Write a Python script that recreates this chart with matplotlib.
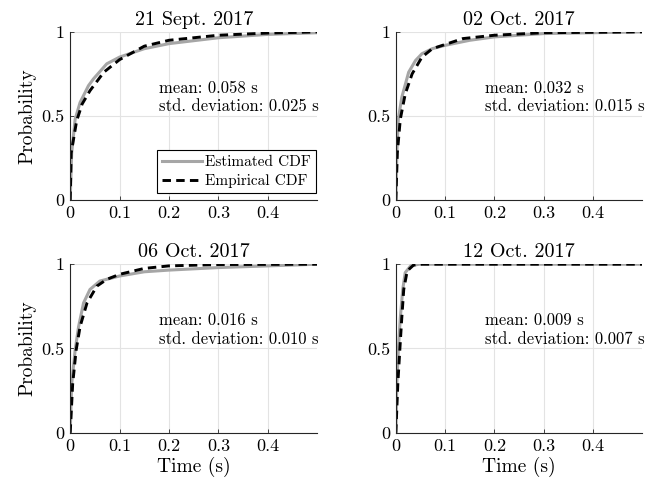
import matplotlib
matplotlib.use("Agg")
import matplotlib.pyplot as plt

plt.rcParams['font.family'] = 'serif'
plt.rcParams['font.serif'] = ['cmr10', 'DejaVu Serif']
plt.rcParams['mathtext.fontset'] = 'cm'
plt.rcParams['axes.formatter.use_mathtext'] = True

titles = ['21 Sept. 2017', '02 Oct. 2017', '06 Oct. 2017', '12 Oct. 2017']
means = ['0.058', '0.032', '0.016', '0.009']
stds = ['0.025', '0.015', '0.010', '0.007']

# estimated CDF (gray)
est_x = [
    [0, 0.003, 0.01, 0.02, 0.037, 0.047, 0.074, 0.1, 0.15, 0.2, 0.3, 0.4, 0.5],
    [0, 0.002, 0.005, 0.012, 0.026, 0.04, 0.053, 0.074, 0.1, 0.15, 0.2, 0.3, 0.5],
    [0, 0.003, 0.01, 0.017, 0.027, 0.04, 0.06, 0.1, 0.15, 0.2, 0.3, 0.4, 0.5],
    [0, 0.002, 0.005, 0.009, 0.014, 0.019, 0.03, 0.047, 0.5],
]
est_y = [
    [0, 0.28, 0.48, 0.58, 0.68, 0.72, 0.81, 0.85, 0.90, 0.93, 0.965, 0.985, 0.995],
    [0, 0.28, 0.48, 0.61, 0.76, 0.83, 0.87, 0.90, 0.92, 0.95, 0.97, 0.99, 1.0],
    [0, 0.29, 0.49, 0.63, 0.77, 0.85, 0.90, 0.93, 0.955, 0.965, 0.98, 0.99, 1.0],
    [0, 0.29, 0.49, 0.68, 0.85, 0.95, 0.99, 1.0, 1.0],
]
# empirical CDF (black dashed)
emp_x = [
    [0, 0.002, 0.013, 0.024, 0.04, 0.068, 0.1, 0.15, 0.2, 0.3, 0.4, 0.5],
    [0, 0.003, 0.009, 0.019, 0.033, 0.053, 0.074, 0.1, 0.136, 0.2, 0.3, 0.5],
    [0, 0.005, 0.012, 0.02, 0.034, 0.054, 0.074, 0.1, 0.15, 0.2, 0.3, 0.5],
    [0, 0.004, 0.008, 0.012, 0.016, 0.023, 0.036, 0.053, 0.5],
]
emp_y = [
    [0, 0.28, 0.47, 0.57, 0.65, 0.76, 0.835, 0.915, 0.95, 0.98, 0.993, 1.0],
    [0, 0.28, 0.48, 0.63, 0.75, 0.85, 0.90, 0.925, 0.96, 0.98, 0.995, 1.0],
    [0, 0.29, 0.49, 0.63, 0.77, 0.87, 0.91, 0.94, 0.975, 0.99, 0.998, 1.0],
    [0, 0.29, 0.49, 0.68, 0.85, 0.96, 0.995, 1.0, 1.0],
]

fig = plt.figure(figsize=(6.5, 4.83), dpi=100)
rects = [
    [0.108, 0.586, 0.380, 0.348],
    [0.609, 0.586, 0.379, 0.348],
    [0.108, 0.104, 0.380, 0.349],
    [0.609, 0.104, 0.379, 0.349],
]

for i in range(4):
    ax = fig.add_axes(rects[i])
    ax.plot(est_x[i], est_y[i], '-', color='#a6a6a6', lw=2.2, label='Estimated CDF')
    ax.plot(emp_x[i], emp_y[i], '--', color='k', lw=2.1, dashes=(2.9, 1.8),
            label='Empirical CDF')
    ax.set_xlim(0, 0.5)
    ax.set_ylim(0, 1)
    ax.set_xticks([0, 0.1, 0.2, 0.3, 0.4])
    ax.set_xticklabels(['0', '0.1', '0.2', '0.3', '0.4'])
    ax.set_yticks([0, 0.5, 1])
    ax.set_yticklabels(['0', '0.5', '1'])
    ax.grid(True, color='#e3e3e3', lw=0.8)
    ax.set_axisbelow(True)
    for s in ['top', 'right']:
        ax.spines[s].set_visible(False)
    for s in ['left', 'bottom']:
        ax.spines[s].set_color('#262626')
        ax.spines[s].set_linewidth(0.8)
    ax.tick_params(direction='in', length=3, width=0.6, color='#262626',
                   labelsize=13, pad=4)
    ax.set_title(titles[i], fontsize=14.5, pad=5)
    ax.text(0.18, 0.665, 'mean: ' + means[i] + ' s', fontsize=12, va='center')
    ax.text(0.18, 0.555, 'std. deviation: ' + stds[i] + ' s', fontsize=12,
            va='center')
    if i % 2 == 0:
        ax.set_ylabel('Probability', fontsize=14, labelpad=4)
    if i >= 2:
        ax.set_xlabel('Time (s)', fontsize=14, labelpad=2)
    if i == 0:
        leg = ax.legend(loc='lower right', bbox_to_anchor=(0.995, 0.04),
                        fontsize=11, frameon=True, fancybox=False,
                        edgecolor='k', framealpha=1, borderaxespad=0,
                        handlelength=2.6, handletextpad=0.2, borderpad=0.35,
                        labelspacing=0.3)
        leg.get_frame().set_linewidth(0.8)

fig.savefig('out.png', dpi=100)
